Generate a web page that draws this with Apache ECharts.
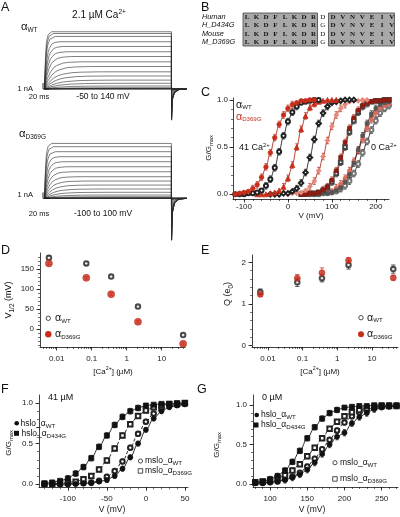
<!DOCTYPE html>
<html>
<head>
<meta charset="utf-8">
<title>BK D369G figure</title>
<script src="https://cdn.jsdelivr.net/npm/echarts@6.0.0/dist/echarts.min.js"></script>
<style>
html,body{margin:0;padding:0;background:#fff;}
#chart{width:400px;height:517px;}
</style>
</head>
<body>
<div id="chart"></div>
<script>
// ================= DATA =================
// Panel A: steady-state current levels (nA), rise times (ms), tail peaks (nA)
const levelsWT = [0, 0.01, 0.02, 0.05, 0.1, 0.2, 0.5, 0.96, 1.5, 2.2, 2.9, 3.8, 4.6, 5.5, 6.3, 7.2, 8.0, 8.9, 9.4, 9.7];
const riseMsWT = [60, 60, 60, 60, 60, 55, 50, 45, 40, 35, 30, 25, 20, 15, 12, 10, 8, 6, 5, 4];
const tailWT = [0, 0, 0, 0, 0, -0.05, -0.05, -0.16, -0.3, -0.6, -1.2, -2.1, -3.1, -4.0, -4.6, -4.9, -5.1, -5.2, -5.25, -5.3];
const levelsD369G = [0, 0, 0, 0.01, 0.02, 0.05, 0.1, 0.27, 0.56, 1.02, 1.58, 2.25, 2.93, 3.66, 4.5, 5.35, 6.2, 7.05, 7.9, 8.75, 9.3];
const riseMsD369G = [60, 60, 60, 60, 60, 55, 50, 45, 40, 35, 30, 26, 22, 18, 15, 12, 10, 8, 6, 5, 4];
const tailD369G = [0, 0, 0, 0, 0, 0, 0, -0.14, -0.28, -0.57, -1.2, -2.2, -3.55, -4.9, -5.9, -6.5, -6.8, -7.0, -7.05, -7.1, -7.1];
const riseShapeT = [0, 0.25, 0.5, 1, 1.5, 2, 3, 4, 6];
const riseShapeF = [0, 0.22, 0.39, 0.63, 0.78, 0.86, 0.95, 0.98, 1];
const tailShapeT = [0.5, 3, 10, 25, 50];
const tailShapeF = [1, 0.35, 0.12, 0.02, 0];
const pulseMs = 420;

// Panel B: sequence alignment
const rowNames = ['Human', 'H_D434G', 'Mouse', 'M_D369G'];
const seqLeft = ['L', 'K', 'D', 'F', 'L', 'K', 'D', 'R'];
const seqMid = ['D', 'G', 'D', 'G'];
const seqRight = ['D', 'V', 'N', 'V', 'E', 'I', 'V'];

// Panel C: G/Gmax vs V (10 mV steps from start voltage)
const cStartV = { D41: -120, W41: -120, D2: -70, W2: -40, D036: 0, D007: 30, W036: 30, W007: 50, D0: 50, W0: 50 };
const gC_D369G_41 = [0.00, 0.01, 0.02, 0.03, 0.06, 0.10, 0.18, 0.29, 0.44, 0.60, 0.74, 0.84, 0.91, 0.95, 0.97, 0.99, 0.99, 1.00, 1.00];
const gC_WT_41 = [0, 0, 0, 0.01, 0.01, 0.02, 0.04, 0.09, 0.16, 0.28, 0.45, 0.62, 0.77, 0.87, 0.93, 0.97, 0.98, 0.99, 1.00, 1.00];
const gC_D369G_2 = [0, 0, 0, 0.01, 0.02, 0.04, 0.08, 0.17, 0.31, 0.50, 0.69, 0.83, 0.92, 0.96, 0.98, 0.99, 1, 1, 1];
const gC_WT_2 = [0, 0, 0, 0.01, 0.01, 0.03, 0.06, 0.12, 0.23, 0.39, 0.58, 0.75, 0.86, 0.93, 0.97, 0.98, 0.99, 1, 1, 1];
const gC_D369G_036 = [0, 0.01, 0.01, 0.02, 0.04, 0.08, 0.14, 0.25, 0.40, 0.57, 0.72, 0.84, 0.91, 0.95, 0.98, 0.99, 0.99, 1, 1];
const gC_D369G_007 = [0, 0, 0.01, 0.01, 0.02, 0.05, 0.08, 0.15, 0.25, 0.39, 0.55, 0.70, 0.81, 0.89, 0.94, 0.97, 0.98, 0.99, 0.99, 1, 1];
const gC_WT_036 = [0, 0, 0.01, 0.01, 0.02, 0.04, 0.07, 0.13, 0.22, 0.34, 0.50, 0.66, 0.78, 0.87, 0.93, 0.96, 0.98, 0.99, 0.99, 1, 1];
const gC_WT_007 = [0, 0, 0, 0.01, 0.01, 0.02, 0.04, 0.07, 0.13, 0.21, 0.33, 0.47, 0.62, 0.75, 0.85, 0.91, 0.95, 0.97, 0.98];
const gC_D369G_0 = [0, 0.01, 0.01, 0.02, 0.03, 0.04, 0.07, 0.11, 0.17, 0.25, 0.35, 0.46, 0.58, 0.70, 0.79, 0.86, 0.91, 0.94, 0.96];
const gC_WT_0 = [0, 0, 0, 0.01, 0.01, 0.02, 0.03, 0.06, 0.09, 0.14, 0.22, 0.32, 0.44, 0.56, 0.68, 0.78, 0.86, 0.91, 0.94];
const errC = 0.035;

// Panels D & E
const caConc = [0.006, 0.07, 0.36, 2.1, 41];
const caTickExp = [-2, -1, 0, 1];
const caTickLabels = ['0.01', '0.1', '1', '10'];
const v12WT = [178, 164, 131, 56, -15];
const v12WTerr = [5, 4, 4, 3, 3];
const v12D369G = [164, 128, 87, 18, -37];
const v12D369Gerr = [3, 3, 3, 3, 3];
const qWT = [1.29, 1.52, 1.62, 1.94, 1.84];
const qWTerr = [0.07, 0.10, 0.09, 0.10, 0.10];
const qD369G = [1.23, 1.62, 1.75, 2.05, 1.63];
const qD369Gerr = [0.05, 0.09, 0.12, 0.07, 0.06];

// Panel F (41 uM Ca), V = -130..50 mV
const fStartV = -130;
const gF_hWT = [0, 0, 0, 0, 0, 0.01, 0.01, 0.03, 0.05, 0.10, 0.19, 0.33, 0.50, 0.67, 0.81, 0.90, 0.95, 0.97, 0.99];
const gF_mWT = [0, 0, 0, 0, 0.01, 0.01, 0.02, 0.04, 0.09, 0.16, 0.28, 0.45, 0.62, 0.77, 0.87, 0.93, 0.97, 0.98, 0.99];
const gF_hD434G = [0.01, 0.02, 0.04, 0.07, 0.13, 0.21, 0.32, 0.46, 0.60, 0.73, 0.83, 0.90, 0.94, 0.97, 0.98, 0.99, 0.99, 1, 1];
const gF_mD369G = [0, 0, 0.01, 0.02, 0.03, 0.06, 0.10, 0.18, 0.29, 0.44, 0.60, 0.74, 0.84, 0.91, 0.95, 0.97, 0.99, 0.99, 1];
// Panel G (0 uM Ca), V = 80..270 mV
const gStartV = 80;
const gG_hWT = [0.01, 0.01, 0.02, 0.03, 0.05, 0.08, 0.12, 0.18, 0.27, 0.38, 0.50, 0.60, 0.65, 0.77, 0.85, 0.90, 0.95, 0.97, 0.98, 0.99];
const gG_hD434G = [0.02, 0.03, 0.06, 0.10, 0.17, 0.28, 0.42, 0.58, 0.72, 0.83, 0.90, 0.94, 0.97, 0.98, 0.99, 0.99, 1, 1, 1, 1];
const gG_mD369G = [0.02, 0.03, 0.04, 0.07, 0.11, 0.17, 0.25, 0.35, 0.46, 0.58, 0.70, 0.79, 0.86, 0.91, 0.94, 0.96, 0.98, 0.99, 0.99, 0.99];
const gG_mWT = [0.01, 0.01, 0.02, 0.03, 0.06, 0.09, 0.14, 0.22, 0.32, 0.44, 0.56, 0.68, 0.78, 0.86, 0.91, 0.94, 0.97, 0.98, 0.99, 0.99];
const errFG = { hWT: 0.03, mWT: 0.03, hD: 0.035, mD: 0.03 };

// ================= STYLE / HELPERS =================
const FF = '"Liberation Sans", Arial, Helvetica, sans-serif';
const SERIF = '"Liberation Serif", "Times New Roman", serif';
const RED = '#c62d1a';
const RED_LINE = '#b3301f';
const AX = '#111';

const volts = (v0, n) => Array.from({ length: n }, (_, i) => v0 + 10 * i);

function mainAxis(dim, gi, min, max, ticks, fmt, margin) {
  return {
    type: 'value', gridIndex: gi, min, max, position: dim === 'x' ? 'bottom' : 'left',
    axisLine: { show: true, onZero: false, lineStyle: { color: AX, width: 0.8 } },
    axisTick: { show: true, inside: false, length: 3.5, lineStyle: { color: AX, width: 0.8 }, customValues: ticks },
    axisLabel: { show: true, customValues: ticks, formatter: fmt, fontSize: 8, color: '#222', fontFamily: FF, margin },
    splitLine: { show: false }, minorTick: { show: false }, minorSplitLine: { show: false }
  };
}
function minorAxis(dim, gi, min, max, ticks) {
  return {
    type: 'value', gridIndex: gi, min, max, position: dim === 'x' ? 'bottom' : 'left',
    axisLine: { show: false, onZero: false },
    axisTick: { show: true, inside: false, length: 2, lineStyle: { color: AX, width: 0.6 }, customValues: ticks },
    axisLabel: { show: false }, splitLine: { show: false }
  };
}
function hiddenAxis(gi, min, max) {
  return { type: 'value', gridIndex: gi, min, max, show: false, splitLine: { show: false } };
}
function range(a, b, s) { const r = []; for (let v = a; v <= b + 1e-9; v += s) r.push(+v.toFixed(4)); return r; }

const caMinor = [];
for (let e = -3; e <= 1; e++) for (let k = 2; k <= 9; k++) caMinor.push(Math.log10(k) + e);
const caFmt = v => caTickLabels[caTickExp.indexOf(Math.round(v))];
const f1 = v => v.toFixed(1);
const f0 = v => String(v);

const grids = [
  { left: 40, top: 27, width: 146.5, height: 97.35 },   // A WT
  { left: 40, top: 139.3, width: 146.5, height: 103.3 },// A D369G
  { left: 233, top: 98, width: 156, height: 101 },      // C
  { left: 40, top: 253, width: 145, height: 94 },       // D
  { left: 252, top: 255, width: 146, height: 92 },      // E
  { left: 39, top: 395, width: 149, height: 92.3 },     // F
  { left: 253, top: 395, width: 145, height: 92 }       // G
].map(g => Object.assign({ outerBoundsMode: 'none', containLabel: false }, g));

const xAxes = [
  hiddenAxis(0, -15, 470), hiddenAxis(1, -15, 470),
  mainAxis('x', 2, -125, 230, [-100, 0, 100, 200], f0, 4), minorAxis('x', 2, -125, 230, range(-120, 220, 20)),
  mainAxis('x', 3, -2.477, 1.666, caTickExp, caFmt, 8), minorAxis('x', 3, -2.477, 1.666, caMinor),
  mainAxis('x', 4, -2.461, 1.749, caTickExp, caFmt, 8), minorAxis('x', 4, -2.461, 1.749, caMinor),
  mainAxis('x', 5, -137, 54, [-100, -50, 0, 50], f0, 7), minorAxis('x', 5, -137, 54, range(-130, 50, 10)),
  mainAxis('x', 6, 77, 272, [100, 150, 200, 250], f0, 8), minorAxis('x', 6, 77, 272, range(80, 270, 10))
];
const yAxes = [
  hiddenAxis(0, -6, 10.5), hiddenAxis(1, -7.5, 10),
  mainAxis('y', 2, -0.05, 1.02, [0, 0.5, 1], f1, 5), minorAxis('y', 2, -0.05, 1.02, range(0, 1, 0.1)),
  mainAxis('y', 3, -45, 190, [0, 50, 100, 150], f0, 6), minorAxis('y', 3, -45, 190, range(-40, 180, 10)),
  mainAxis('y', 4, -0.04, 2.18, [0, 1, 2], f0, 6), minorAxis('y', 4, -0.04, 2.18, range(0, 2.2, 0.2)),
  mainAxis('y', 5, -0.04, 1.1, [0, 0.5, 1], f1, 6), minorAxis('y', 5, -0.04, 1.1, range(0, 1, 0.1)),
  mainAxis('y', 6, -0.04, 1.13, [0, 0.5, 1], f1, 6), minorAxis('y', 6, -0.04, 1.13, range(0, 1, 0.1))
];

const series = [];

// ---- Panel A traces
function traceData(L, tau, tail) {
  const d = riseShapeT.map((a, i) => [a * tau, L * riseShapeF[i]]);
  d.push([pulseMs, L]);
  tailShapeT.forEach((a, i) => d.push([pulseMs + a, tail * tailShapeF[i]]));
  return d;
}
function addTraces(idx, levels, taus, tails) {
  levels.forEach((L, i) => series.push({
    type: 'line', xAxisIndex: idx, yAxisIndex: idx, data: traceData(L, taus[i], tails[i]),
    showSymbol: false, lineStyle: { color: '#2a2a2a', width: 0.6 }, silent: true, z: 2
  }));
  series.push({
    type: 'line', xAxisIndex: idx, yAxisIndex: idx, data: [[-5, 1], [-5, 0], [15, 0]],
    showSymbol: false, lineStyle: { color: '#111', width: 0.9 }, silent: true, z: 3
  });
}
addTraces(0, levelsWT, riseMsWT, tailWT);
addTraces(1, levelsD369G, riseMsD369G, tailD369G);

// ---- generic series
function curve(xi, v, g, st) {
  return {
    type: 'line', xAxisIndex: xi, yAxisIndex: xi, data: v.map((x, i) => [x, g[i]]),
    smooth: 0.35, smoothMonotone: 'x', showSymbol: true, symbol: st.sym, symbolSize: st.size,
    itemStyle: { color: st.fill, borderColor: st.fill, borderWidth: 0.8 },
    lineStyle: { color: st.line, width: st.lw || 0.9, type: st.dash || 'solid' },
    z: st.z || 4, silent: true
  };
}
function errBars(xi, pts, color, cap) {
  return {
    type: 'custom', xAxisIndex: xi, yAxisIndex: xi, data: pts, silent: true, z: 3,
    encode: { x: 0, y: [1, 2] },
    renderItem: (params, api) => {
      const x = api.value(0), lo = api.value(1), hi = api.value(2);
      const a = api.coord([x, lo]), b = api.coord([x, hi]);
      const ls = { stroke: color, lineWidth: 0.7 };
      return {
        type: 'group', children: [
          { type: 'line', shape: { x1: a[0], y1: a[1], x2: b[0], y2: b[1] }, style: ls },
          { type: 'line', shape: { x1: a[0] - cap, y1: a[1], x2: a[0] + cap, y2: a[1] }, style: ls },
          { type: 'line', shape: { x1: b[0] - cap, y1: b[1], x2: b[0] + cap, y2: b[1] }, style: ls }
        ]
      };
    }
  };
}
function curveWithErr(xi, v0, g, err, st) {
  const v = volts(v0, g.length);
  const pts = [];
  g.forEach((y, i) => { if (y > 0.04 && y < 0.97) pts.push([v[i], y - err, y + err]); });
  series.push(errBars(xi, pts, st.errColor || st.line, 1.6));
  series.push(curve(xi, v, g, st));
}

// ---- Panel C
const cSet = [
  [cStartV.W0, gC_WT_0, { sym: 'emptyCircle', size: 4, fill: '#777', line: '#222' }],
  [cStartV.D0, gC_D369G_0, { sym: 'circle', size: 4, fill: '#e06a5a', line: RED_LINE }],
  [cStartV.W007, gC_WT_007, { sym: 'rect', size: 3.6, fill: '#555', line: '#222' }],
  [cStartV.W036, gC_WT_036, { sym: 'emptyRect', size: 3.6, fill: '#444', line: '#222' }],
  [cStartV.D007, gC_D369G_007, { sym: 'rect', size: 3.8, fill: '#8e1c10', line: RED_LINE }],
  [cStartV.D036, gC_D369G_036, { sym: 'diamond', size: 5, fill: '#e8867a', line: RED_LINE }],
  [cStartV.W2, gC_WT_2, { sym: 'emptyDiamond', size: 4.5, fill: '#222', line: '#222' }],
  [cStartV.D2, gC_D369G_2, { sym: 'triangle', size: 5, fill: RED, line: RED_LINE }],
  [cStartV.W41, gC_WT_41, { sym: 'emptyCircle', size: 4, fill: '#222', line: '#222' }],
  [cStartV.D41, gC_D369G_41, { sym: 'circle', size: 4.5, fill: RED, line: RED_LINE }]
];
cSet.forEach(([v0, g, st]) => curveWithErr(2, v0, g, errC, st));

// ---- Panels D & E
function pointsWithErr(xi, vals, errs, st) {
  const lx = caConc.map(c => Math.log10(c));
  series.push(errBars(xi, lx.map((x, i) => [x, vals[i] - errs[i], vals[i] + errs[i]]), st.err, 2.2));
  series.push({
    type: 'scatter', xAxisIndex: xi, yAxisIndex: xi, data: lx.map((x, i) => [x, vals[i]]),
    symbol: st.sym, symbolSize: st.size, itemStyle: { color: st.fill, borderColor: st.fill, borderWidth: 0.8 },
    silent: true, z: 4
  });
}
pointsWithErr(4, v12WT, v12WTerr, { sym: 'emptyCircle', size: 4.5, fill: '#222', err: '#222' });
pointsWithErr(4, v12D369G, v12D369Gerr, { sym: 'circle', size: 7, fill: RED, err: RED });
pointsWithErr(6, qWT, qWTerr, { sym: 'emptyCircle', size: 4.5, fill: '#222', err: '#222' });
pointsWithErr(6, qD369G, qD369Gerr, { sym: 'circle', size: 6, fill: RED, err: RED });

// ---- Panels F & G
const hSolid = { line: '#111', lw: 0.9 };
curveWithErr(8, fStartV, gF_mWT, errFG.mWT, Object.assign({ sym: 'emptyCircle', size: 4.5, fill: '#222', dash: [3, 2] }, hSolid));
curveWithErr(8, fStartV, gF_mD369G, errFG.mD, Object.assign({ sym: 'emptyRect', size: 4.5, fill: '#222', dash: [3, 2] }, hSolid));
curveWithErr(8, fStartV, gF_hWT, errFG.hWT, Object.assign({ sym: 'circle', size: 5, fill: '#111' }, hSolid));
curveWithErr(8, fStartV, gF_hD434G, errFG.hD, Object.assign({ sym: 'rect', size: 5, fill: '#111' }, hSolid));
curveWithErr(10, gStartV, gG_mWT, errFG.mWT, Object.assign({ sym: 'emptyCircle', size: 4.5, fill: '#222', dash: [3, 2] }, hSolid));
curveWithErr(10, gStartV, gG_mD369G, errFG.mD, Object.assign({ sym: 'emptyRect', size: 4.5, fill: '#222', dash: [3, 2] }, hSolid));
curveWithErr(10, gStartV, gG_hWT, errFG.hWT + 0.01, Object.assign({ sym: 'circle', size: 5, fill: '#111' }, hSolid));
curveWithErr(10, gStartV, gG_hD434G, errFG.hD, Object.assign({ sym: 'rect', size: 5, fill: '#111' }, hSolid));

// ================= GRAPHIC TEXT =================
function mkRich(sz, col) {
  return {
    t: { fontSize: sz, fontFamily: FF, lineHeight: sz + 3, fill: col },
    s: { fontSize: sz * 0.72, fontFamily: FF, lineHeight: sz * 0.72, verticalAlign: 'bottom', fill: col },
    p: { fontSize: sz * 0.66, fontFamily: FF, lineHeight: sz * 0.66, verticalAlign: 'top', fill: col },
    a: { fontSize: sz * 1.25, fontFamily: FF, lineHeight: sz + 3, fill: col }
  };
}
function T(x, y, text, sz, o) {
  o = o || {};
  const col = o.color || '#111';
  return {
    type: 'text', x, y, rotation: o.rot || 0, silent: true, z: 100,
    style: {
      text, rich: mkRich(sz, col), fontSize: sz, fontFamily: o.font || FF,
      fontStyle: o.italic ? 'italic' : 'normal', fontWeight: o.bold ? 'bold' : 'normal',
      fill: col, align: o.align || 'left', verticalAlign: o.va || 'middle'
    }
  };
}
const R90 = Math.PI / 2;
const gfx = [];
// panel letters
[['A', 1, 1], ['B', 201, 1], ['C', 201, 86], ['D', 1, 244], ['E', 201, 244], ['F', 1, 383], ['G', 197, 383]]
  .forEach(([l, x, y]) => gfx.push(T(x, y, l, 12.5, { va: 'top' })));

// Panel A labels
gfx.push(T(99, 15, '{t|2.1 µM Ca}{p|2+}', 10, { align: 'center' }));
gfx.push(T(21, 27, '{a|α}{s|WT}', 9));
gfx.push(T(19, 134, '{a|α}{s|D369G}', 9));
gfx.push(T(33, 89, '1 nA', 7.5, { align: 'right' }));
gfx.push(T(39, 97, '20 ms', 7.5, { align: 'center' }));
gfx.push(T(103, 97, '-50 to 140 mV', 8.5, { align: 'center' }));
gfx.push(T(33, 195, '1 nA', 7.5, { align: 'right' }));
gfx.push(T(39, 214, '20 ms', 7.5, { align: 'center' }));
gfx.push(T(103, 214, '-100 to 100 mV', 8.5, { align: 'center' }));

// Panel B table
const rowY = [17.2, 25.45, 33.7, 41.95];
gfx.push({ type: 'rect', shape: { x: 243, y: 13, width: 74.5, height: 33 }, style: { fill: '#a8a8a8', stroke: '#444', lineWidth: 0.8 }, z: 50, silent: true });
gfx.push({ type: 'rect', shape: { x: 328.5, y: 13, width: 66, height: 33 }, style: { fill: '#a8a8a8', stroke: '#444', lineWidth: 0.8 }, z: 50, silent: true });
rowNames.forEach((n, r) => {
  gfx.push(T(202, rowY[r], n, 7.3, { italic: true }));
  seqLeft.forEach((c, i) => gfx.push(T(247 + 9.5 * i, rowY[r], c, 7, { font: SERIF, bold: true, align: 'center' })));
  gfx.push(T(322.7, rowY[r], seqMid[r], 7, { font: SERIF, align: 'center' }));
  seqRight.forEach((c, i) => gfx.push(T(333 + 9.8 * i, rowY[r], c, 7, { font: SERIF, bold: true, align: 'center' })));
});

// Panel C labels
gfx.push(T(236, 105, '{a|α}{s|WT}', 8.5));
gfx.push(T(236, 117, '{a|α}{s|D369G}', 8.5, { color: RED }));
gfx.push(T(239, 148, '{t|41 Ca}{p|2+}', 9));
gfx.push(T(371, 148, '{t|0 Ca}{p|2+}', 9));
gfx.push(T(209, 148, '{t|G/G}{s|max}', 8, { align: 'center', rot: R90 }));
gfx.push(T(311, 216, 'V (mV)', 8, { align: 'center' }));

// Panel D labels
gfx.push(T(9, 300, '{t|V}{s|1/2}{t| (mV)}', 9, { align: 'center', rot: R90 }));
gfx.push({ type: 'circle', shape: { cx: 48.3, cy: 318.3, r: 2.2 }, style: { fill: '#fff', stroke: '#222', lineWidth: 0.8 }, z: 100, silent: true });
gfx.push(T(55, 318.3, '{a|α}{s|WT}', 8.5));
gfx.push({ type: 'circle', shape: { cx: 48.3, cy: 334.3, r: 3.2 }, style: { fill: RED }, z: 100, silent: true });
gfx.push(T(55, 334.3, '{a|α}{s|D369G}', 8.5));
gfx.push(T(113, 372, '{t|[Ca}{p|2+}{t|] (µM)}', 8, { align: 'center' }));

// Panel E labels
gfx.push(T(228, 294, '{t|Q (e}{s|0}{t|)}', 9, { align: 'center', rot: R90 }));
gfx.push({ type: 'circle', shape: { cx: 361, cy: 317.7, r: 2.2 }, style: { fill: '#fff', stroke: '#222', lineWidth: 0.8 }, z: 100, silent: true });
gfx.push(T(367, 317.7, '{a|α}{s|WT}', 8.5));
gfx.push({ type: 'circle', shape: { cx: 361, cy: 334.3, r: 3 }, style: { fill: RED }, z: 100, silent: true });
gfx.push(T(367, 334.3, '{a|α}{s|D369G}', 8.5));
gfx.push(T(320, 372, '{t|[Ca}{p|2+}{t|] (µM)}', 8, { align: 'center' }));

// Panel F labels
gfx.push(T(48, 398, '41 µM', 9));
gfx.push({ type: 'circle', shape: { cx: 16.7, cy: 423.3, r: 2.3 }, style: { fill: '#111' }, z: 100, silent: true });
gfx.push(T(20.5, 423.3, '{t|hslo_α}{s|WT}', 8.5));
gfx.push({ type: 'rect', shape: { x: 14, y: 430.8, width: 5, height: 5 }, style: { fill: '#111' }, z: 100, silent: true });
gfx.push(T(21.5, 433.3, '{t|hslo_α}{s|D434G}', 8.5));
gfx.push({ type: 'circle', shape: { cx: 140.5, cy: 461, r: 2.1 }, style: { fill: '#fff', stroke: '#222', lineWidth: 0.8 }, z: 100, silent: true });
gfx.push(T(145, 461, '{t|mslo_α}{s|WT}', 8.5));
gfx.push({ type: 'rect', shape: { x: 138.2, y: 468.7, width: 4.5, height: 4.5 }, style: { fill: '#fff', stroke: '#222', lineWidth: 0.8 }, z: 100, silent: true });
gfx.push(T(145, 471, '{t|mslo_α}{s|D369G}', 8.5));
gfx.push(T(9, 443, '{t|G/G}{s|max}', 8, { align: 'center', rot: R90 }));
gfx.push(T(112, 510, 'V (mV)', 8.5, { align: 'center' }));

// Panel G labels
gfx.push(T(262, 398, '0 µM', 9));
gfx.push({ type: 'circle', shape: { cx: 256.7, cy: 415, r: 2.3 }, style: { fill: '#111' }, z: 100, silent: true });
gfx.push(T(261, 415, '{t|hslo_α}{s|WT}', 8.5));
gfx.push({ type: 'rect', shape: { x: 253.5, y: 422.5, width: 5, height: 5 }, style: { fill: '#111' }, z: 100, silent: true });
gfx.push(T(261, 425, '{t|hslo_α}{s|D434G}', 8.5));
gfx.push({ type: 'circle', shape: { cx: 335, cy: 462.7, r: 2.1 }, style: { fill: '#fff', stroke: '#222', lineWidth: 0.8 }, z: 100, silent: true });
gfx.push(T(340, 462.7, '{t|mslo_α}{s|WT}', 8.5));
gfx.push({ type: 'rect', shape: { x: 332.7, y: 476.7, width: 4.5, height: 4.5 }, style: { fill: '#fff', stroke: '#222', lineWidth: 0.8 }, z: 100, silent: true });
gfx.push(T(340, 479, '{t|mslo_α}{s|D369G}', 8.5));
gfx.push(T(217, 445, '{t|G/G}{s|max}', 8, { align: 'center', rot: R90 }));
gfx.push(T(312, 510, 'V (mV)', 8.5, { align: 'center' }));

const chart = echarts.init(document.getElementById('chart'), null, { renderer: 'canvas' });
chart.setOption({
  animation: false,
  backgroundColor: '#fff',
  textStyle: { fontFamily: FF },
  grid: grids,
  xAxis: xAxes,
  yAxis: yAxes,
  series,
  graphic: { elements: gfx }
});
</script>
</body>
</html>
